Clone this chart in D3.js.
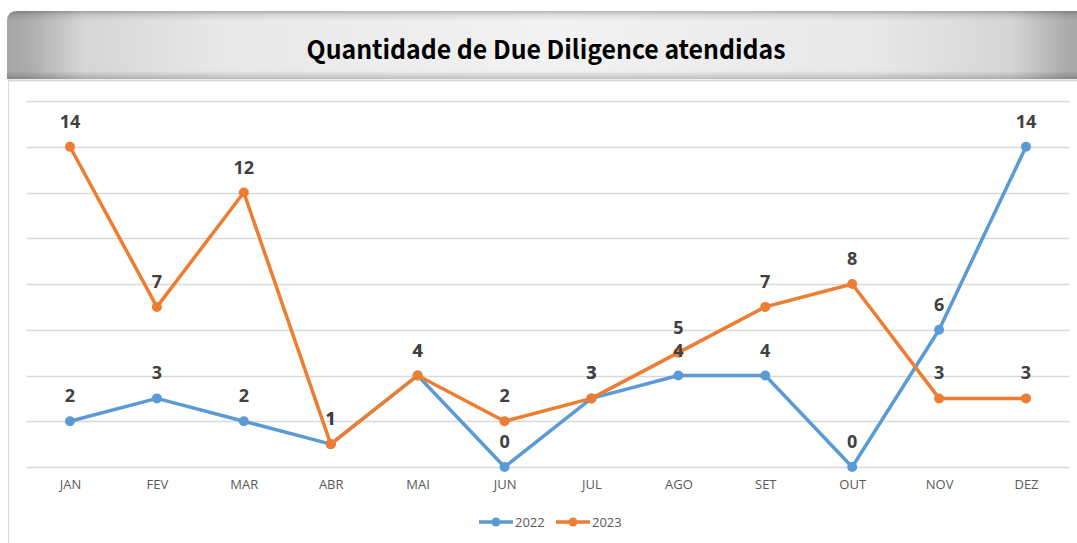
<!DOCTYPE html>
<html><head><meta charset="utf-8">
<script src="https://cdn.jsdelivr.net/npm/d3@7"></script>
<style>body{margin:0;background:#fff;overflow:hidden}svg{display:block}</style>
</head><body>
<script>
const months = ["JAN","FEV","MAR","ABR","MAI","JUN","JUL","AGO","SET","OUT","NOV","DEZ"];
const values2022 = [2,3,2,1,4,0,3,4,4,0,6,14];
const values2023 = [14,7,12,1,4,2,3,5,7,8,3,3];
const seriesNames = ["2022","2023"];
const yTicks = [0,2,4,6,8,10,12,14,16];
const title = "Quantidade de Due Diligence atendidas";

const W = 1077, H = 543;
const svg = d3.select("body").append("svg").attr("width", W).attr("height", H);
const defs = svg.append("defs");

// banner gradients
const hg = defs.append("linearGradient").attr("id","hg").attr("x1","0").attr("x2","1").attr("y1","0").attr("y2","0");
[[0,"#a6a6a6"],[0.02,"#acacac"],[0.07,"#d6d6d6"],[0.2,"#e8e8e8"],[0.5,"#f2f2f2"],[0.8,"#e8e8e8"],[0.93,"#d6d6d6"],[0.98,"#acacac"],[1,"#a6a6a6"]]
  .forEach(([o,c]) => hg.append("stop").attr("offset",o).attr("stop-color",c));
const vg = defs.append("linearGradient").attr("id","vg").attr("x1","0").attr("x2","0").attr("y1","0").attr("y2","1");
[[0,"#000",0.25],[0.06,"#000",0.08],[0.15,"#000",0],[0.88,"#000",0],[0.94,"#000",0.1],[1,"#000",0.2]]
  .forEach(([o,c,a]) => vg.append("stop").attr("offset",o).attr("stop-color",c).attr("stop-opacity",a));

// container border
svg.append("line").attr("x1",8.5).attr("x2",8.5).attr("y1",79).attr("y2",H).attr("stroke","#d9d9d9").attr("stroke-width",1);
svg.append("line").attr("x1",8).attr("x2",W).attr("y1",80.5).attr("y2",80.5).attr("stroke","#d9d9d9").attr("stroke-width",2);

// banner
const bx = 7, by = 11, bw = W - 7 + 10, bh = 68, r = 10;
const bannerPath = `M${bx},${by+bh} L${bx},${by+r} Q${bx},${by} ${bx+r},${by} L${bx+bw},${by} L${bx+bw},${by+bh} Z`;
svg.append("path").attr("d", bannerPath).attr("fill","url(#hg)");
svg.append("path").attr("d", bannerPath).attr("fill","url(#vg)");
svg.append("text").attr("x", 546).attr("y", 59).attr("text-anchor","middle")
  .attr("font-family","'Noto Sans CJK KR', 'Noto Sans', sans-serif").attr("font-weight",700)
  .attr("font-size",26).attr("fill","#000").attr("textLength",479).attr("lengthAdjust","spacingAndGlyphs")
  .text(title);

// scales
const x = d3.scalePoint().domain(months).range([70, 1026]);
const y = d3.scaleLinear().domain([0,16]).range([467, 101]);

// grid
svg.append("g").selectAll("line").data(yTicks).join("line")
  .attr("x1",26.5).attr("x2",1069.5)
  .attr("y1",d=>Math.round(y(d))+0.5).attr("y2",d=>Math.round(y(d))+0.5)
  .attr("stroke","#d9d9d9").attr("stroke-width",1.3);

// x axis labels
const xAxis = d3.axisBottom(x).tickSize(0).tickPadding(0);
const gx = svg.append("g").attr("transform","translate(0,480)").call(xAxis);
gx.select(".domain").remove();
gx.selectAll("text").attr("font-family","'Open Sans', 'Noto Sans', sans-serif").attr("font-size",13)
  .attr("fill","#595959").attr("dy","0.71em");

const colors = {"2022":"#5b9bd5","2023":"#ed7d31"};
const data = {"2022":values2022,"2023":values2023};
const line = d3.line().x((d,i)=>x(months[i])).y(d=>y(d));

seriesNames.forEach(s => {
  const g = svg.append("g");
  g.append("path").datum(data[s]).attr("d",line).attr("fill","none")
    .attr("stroke",colors[s]).attr("stroke-width",3.5).attr("stroke-linejoin","round").attr("stroke-linecap","round");
  g.selectAll("circle").data(data[s]).join("circle")
    .attr("cx",(d,i)=>x(months[i])).attr("cy",d=>y(d)).attr("r",5).attr("fill",colors[s]);
});

// data labels
seriesNames.forEach(s => {
  svg.append("g").selectAll("text").data(data[s]).join("text")
    .attr("x",(d,i)=>x(months[i])).attr("y",d=>y(d)-19)
    .attr("text-anchor","middle")
    .attr("font-family","'Open Sans', 'Noto Sans', sans-serif").attr("font-weight",700).attr("font-size",18)
    .attr("fill","#404040").text(d=>d);
});

// legend
const legend = svg.append("g").attr("transform","translate(479,522)");
seriesNames.forEach((s,i) => {
  const g = legend.append("g").attr("transform",`translate(${i*77},0)`);
  g.append("line").attr("x1",0).attr("x2",34).attr("y1",0).attr("y2",0).attr("stroke",colors[s]).attr("stroke-width",3.5);
  g.append("circle").attr("cx",17).attr("cy",0).attr("r",4.5).attr("fill",colors[s]);
  g.append("text").attr("x",36).attr("y",0).attr("dy","0.35em")
    .attr("font-family","'Open Sans', 'Noto Sans', sans-serif").attr("font-size",13).attr("fill","#595959").text(s);
});
</script>
</body></html>
